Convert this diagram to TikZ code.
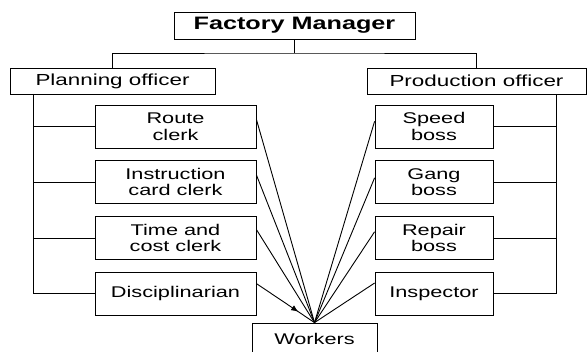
\documentclass[tikz,border=0pt]{standalone}
\usepackage{fontspec}
\setmainfont{Liberation Sans}[FakeStretch=1.4]
\usetikzlibrary{arrows.meta,decorations.markings}
\begin{document}
\begin{tikzpicture}
	[x=1pt,y=-1pt,line width=0.9pt,
	every node/.style={draw=black,
	line width=0.8pt,inner sep=0pt,align=center,
	font=\fontsize{15.5}{16.5}\selectfont},
	staff/.style={minimum width=161pt,minimum height=43pt},
	boss/.style={minimum width=118pt,minimum height=43pt},
	officer/.style={minimum height=26pt,font=\fontsize{16}{18}\selectfont}]
	\useasboundingbox (0,0) rectangle (588,352);

	\node[minimum width=241pt,minimum height=27pt,
	font=\fontsize{18}{20}\selectfont\bfseries] (mgr) at (294.5,25.5) {Factory Manager};

	\node[officer,minimum width=205pt] (plan) at (112.5,81) {Planning officer};
	\node[officer,minimum width=219pt] (prod) at (476.5,81) {Production officer};

	\node[staff] (route) at (175.5,126.5) {Route\\clerk};
	\node[staff] (instr) at (175.5,182)   {Instruction\\card clerk};
	\node[staff] (time)  at (175.5,238)   {Time and\\cost clerk};
	\node[staff] (disc)  at (175.5,293.5) {Disciplinarian};

	\node[boss] (speed)   at (434,126.5) {Speed\\boss};
	\node[boss] (gang)    at (434,182)   {Gang\\boss};
	\node[boss] (repair)  at (434,238)   {Repair\\boss};
	\node[boss] (inspect) at (434,293.5) {Inspector};

	\node[minimum width=125pt,minimum height=31pt] (work) at (314.5,338.5) {Workers};

	\coordinate (hub) at (294.5,53);
	\coordinate (lspine) at (33,94);
	\coordinate (rspine) at (556,94);

	\draw (mgr.south) -- (hub);
	\draw (plan.north) |- (hub) -| (prod.north);

	\draw (lspine) |- (disc.west);
	\draw (rspine) |- (inspect.east);
	\foreach \unit in {route,instr,time}
	\draw (\unit.west) -- (\unit.west -| lspine);
	\foreach \unit in {speed,gang,repair}
	\draw (\unit.east) -- (\unit.east -| rspine);

	\foreach \from/\to in {route.5/work.north,instr.5/work.north,time.6/work.north,
	speed.175/work.north,gang.176/work.north,repair.174/work.north,inspect.170/work.north}
	\draw (\from) -- (\to);

	\draw[postaction={decorate},decoration={markings,
	mark=at position 0.72 with {\arrow{Latex[length=7pt,width=6pt]}}}]
	(disc.7) -- (work.north);
\end{tikzpicture}
\end{document}
